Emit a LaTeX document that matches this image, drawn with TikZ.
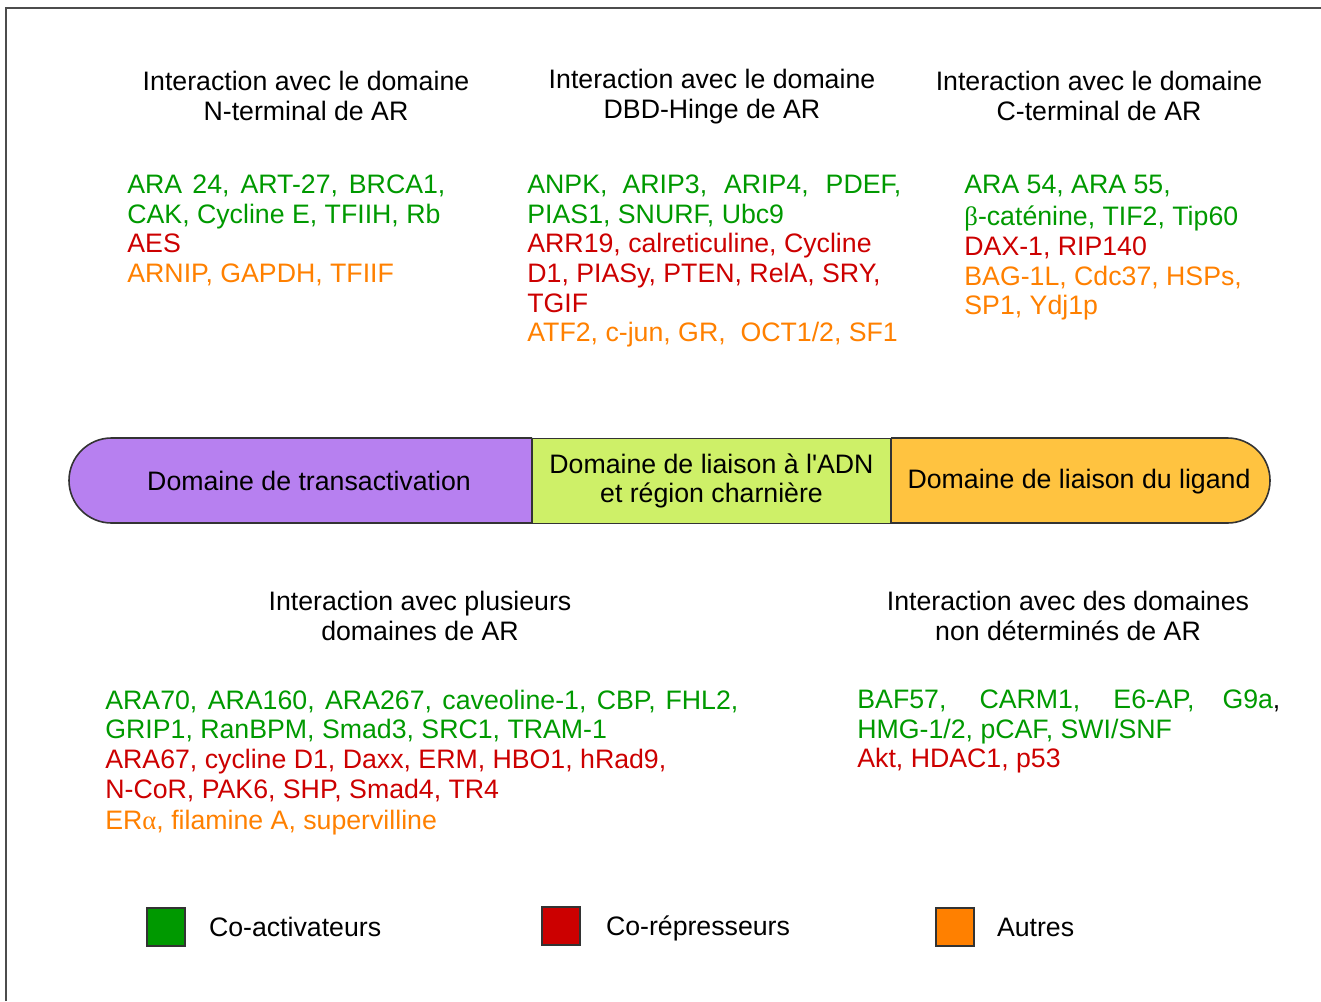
\documentclass[tikz,border=0pt]{standalone}
\usepackage{fontspec}
\setmainfont{Liberation Sans}[Ligatures=TeXOff]
\newfontfamily\grec{Liberation Serif}
\usetikzlibrary{positioning,calc}
\definecolor{coact}{RGB}{0,153,0}
\definecolor{corep}{RGB}{204,0,0}
\definecolor{autre}{RGB}{255,128,0}
\definecolor{tadcol}{RGB}{183,128,240}
\definecolor{dbdcol}{RGB}{206,240,104}
\definecolor{lbdcol}{RGB}{255,195,64}
\definecolor{bord}{RGB}{51,51,51}
\tikzset{titre/.style={align=center, inner sep=0pt},
    liste/.style={anchor=north west, align=left, inner sep=0pt},
    legende/.style={draw=bord, line width=0.6pt, minimum size=19pt, inner sep=0pt},
    legtexte/.style={inner sep=0pt, text height=9.6pt, text depth=0pt}
}
\tikzstyle{domaine} = [draw=bord, line width=0.8pt]

\begin{document}
\begin{tikzpicture}[x=0.5pt, y=-0.5pt, font=\fontsize{13.35}{14.85}\selectfont]
    \useasboundingbox (0,0) rectangle (1321,1001);
    \draw [draw=black!70, line width=1pt] (6,1001) -- (6,8) -- (1321,8);

    \node [titre] (tN) at (306,96) {Interaction avec le domaine\\N-terminal de AR};
    \node [titre] (tDBD) at (712,96.5) {Interaction avec le domaine\\DBD-Hinge de AR};
    \node [titre] (tC) at (1099,96) {Interaction avec le domaine\\C-terminal de AR};

    \node [liste] (lN) at (127,174.4) {%
        \textcolor{coact}{\makebox[159pt][s]{ARA 24, ART-27, BRCA1,}}\\
        \textcolor{coact}{CAK, Cycline E, TFIIH, Rb}\\
        \textcolor{corep}{AES}\\
        \textcolor{autre}{ARNIP, GAPDH, TFIIF}};
    \node [liste] (lDBD) at (527,174.4) {%
        \textcolor{coact}{\makebox[187pt][s]{ANPK, ARIP3, ARIP4, PDEF,}}\\
        \textcolor{coact}{PIAS1, SNURF, Ubc9}\\
        \textcolor{corep}{ARR19, calreticuline, Cycline}\\
        \textcolor{corep}{D1, PIASy, PTEN, RelA, SRY,}\\
        \textcolor{corep}{TGIF}\\
        \textcolor{autre}{ATF2, c-jun, GR, \ OCT1/2, SF1}};
    \node [liste] (lC) at (964,174.4) {%
        \textcolor{coact}{ARA 54, ARA 55,}\\[1.5pt]
        \textcolor{coact}{{\grec β}-caténine, TIF2, Tip60}\\
        \textcolor{corep}{DAX-1, RIP140}\\
        \textcolor{autre}{BAG-1L, Cdc37, HSPs,}\\
        \textcolor{autre}{SP1, Ydj1p}};

    \filldraw [domaine, fill=tadcol, rounded corners=21.25pt] (532,438) -- (69,438) -- (69,523) -- (532,523);
    \filldraw [domaine, fill=lbdcol, rounded corners=21.25pt] (891,438) -- (1270,438) -- (1270,523) -- (891,523);
    \node [domaine, fill=dbdcol, minimum width=179.5pt, minimum height=42.5pt, inner sep=0pt, align=center] (dbd) at (711.5,481) {Domaine de liaison à l'ADN\\et région charnière};
    \node [inner sep=0pt] (tad) at (309,481) {Domaine de transactivation};
    \node [inner sep=0pt] (lbd) at (1079,482) {Domaine de liaison du ligand};

    \node [titre] (tPlus) at (420,616) {Interaction avec plusieurs\\domaines de AR};
    \node [titre] (tND) at (1068,616) {Interaction avec des domaines\\non déterminés de AR};

    \node [liste] (lPlus) at (105,689.4) {%
        \textcolor{coact}{\makebox[316.5pt][s]{ARA70, ARA160, ARA267, caveoline-1, CBP, FHL2,}}\\
        \textcolor{coact}{GRIP1, RanBPM, Smad3, SRC1, TRAM-1}\\
        \textcolor{corep}{ARA67, cycline D1, Daxx, ERM, HBO1, hRad9,}\\
        \textcolor{corep}{N-CoR, PAK6, SHP, Smad4, TR4}\\[1pt]
        \textcolor{autre}{ER{\grec α}, filamine A, supervilline}};
    \node [liste] (lND) at (857,689.4) {%
        \makebox[211.5pt][s]{\textcolor{coact}{BAF57, CARM1, E6-AP, G9a},}\\
        \textcolor{coact}{HMG-1/2, pCAF, SWI/SNF}\\
        \textcolor{corep}{Akt, HDAC1, p53}};

    \node [legende, fill=coact] (lgco) at (166,927) {};
    \node [legtexte, right=11.5pt of lgco] (txco) {Co-activateurs};
    \node [legende, fill=corep] (lgrep) at (561,926) {};
    \node [legtexte, right=12.5pt of lgrep] (txrep) {Co-répresseurs};
    \node [legende, fill=autre] (lgaut) at (955,927) {};
    \node [legtexte, right=11pt of lgaut] (txaut) {Autres};
\end{tikzpicture}
\end{document}
